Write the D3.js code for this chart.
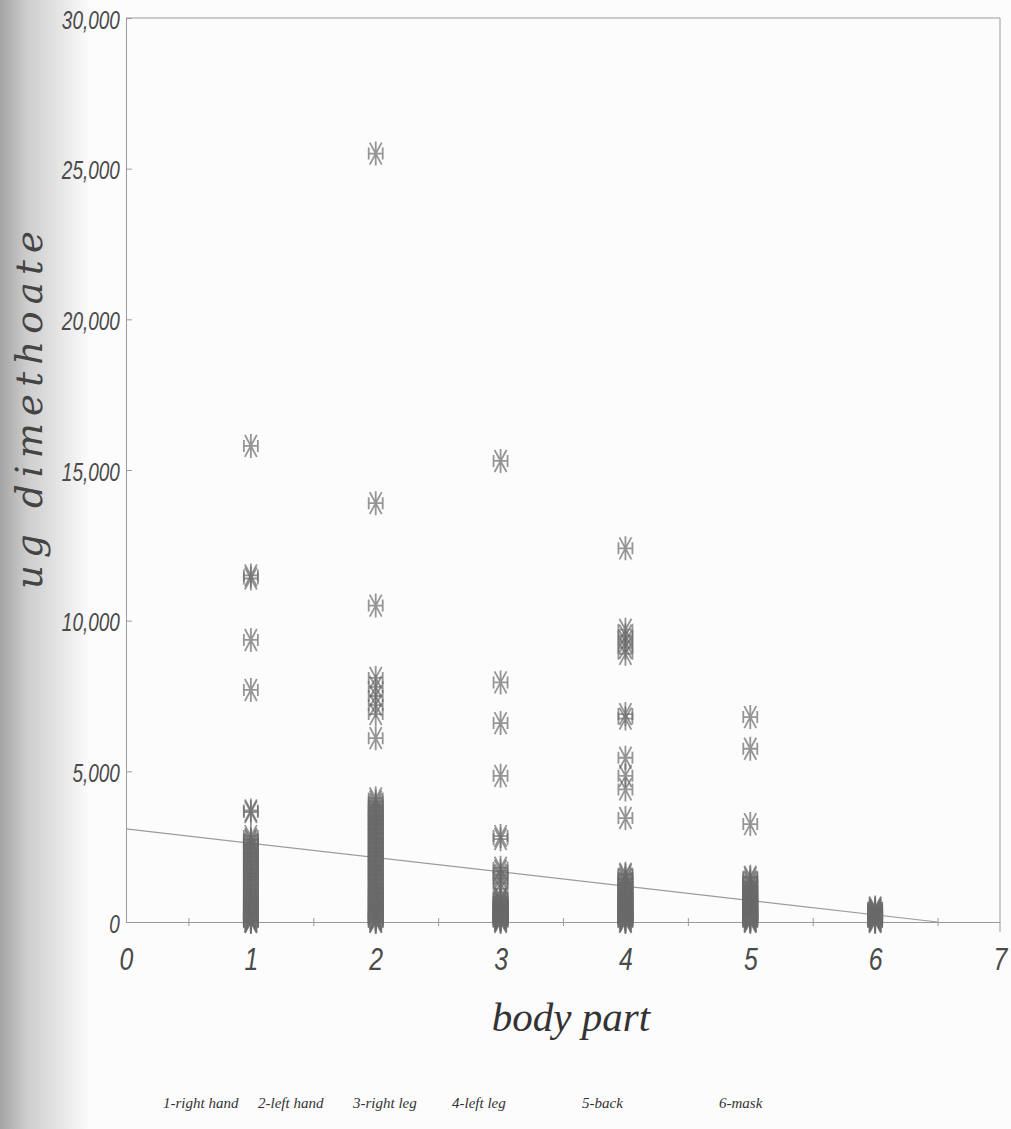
<!DOCTYPE html>
<html>
<head>
<meta charset="utf-8">
<script src="https://cdn.jsdelivr.net/npm/d3@7"></script>
<style>
  html, body { margin: 0; padding: 0; background: #fcfcfc; }
  svg { display: block; }
</style>
</head>
<body>
<svg id="chart" width="1011" height="1129"></svg>
<script>
// ---- data -------------------------------------------------------------
const bodyPartCodes = [1, 2, 3, 4, 5, 6];
const bodyPartLabels = ["1-right hand", "2-left hand", "3-right leg", "4-left leg", "5-back", "6-mask"];

// µg dimethoate measured on each body part
const rightHand = [15800, 11500, 11400, 9360, 7700, 3700, 3650, 2850, 2750, 2700, 2600, 2550,
  2450, 2400, 2300, 2250, 2150, 2050, 2000, 1900, 1800, 1750, 1650, 1600, 1500, 1400, 1350,
  1250, 1200, 1100, 1000, 950, 900, 800, 750, 700, 600, 550, 520, 450, 400, 380, 300, 250,
  200, 150, 120, 100, 60, 30, 10, 0];
const leftHand = [25500, 13900, 10500, 8100, 7800, 7500, 7200, 6900, 6100, 4100, 4000, 3900,
  3800, 3700, 3650, 3550, 3500, 3400, 3350, 3250, 3200, 3100, 3050, 2950, 2900, 2800, 2750,
  2650, 2600, 2500, 2450, 2350, 2300, 2200, 2150, 2050, 2000, 1900, 1850, 1750, 1700, 1600,
  1550, 1450, 1400, 1300, 1250, 1150, 1100, 1000, 950, 900, 850, 800, 700, 650, 600, 500,
  450, 420, 350, 300, 280, 200, 150, 120, 100, 50, 20, 0];
const rightLeg = [15300, 7950, 6600, 4850, 2850, 2750, 1800, 1700, 1550, 1450, 1300, 1100,
  800, 750, 700, 650, 620, 550, 500, 480, 420, 400, 350, 320, 300, 250, 220, 200, 150, 120,
  100, 80, 60, 30, 0];
const leftLeg = [12400, 9700, 9500, 9300, 9100, 8900, 6900, 6750, 5450, 4850, 4400, 3450, 1600,
  1550, 1450, 1400, 1300, 1250, 1150, 1100, 1000, 950, 900, 850, 800, 750, 700, 650, 600,
  550, 500, 450, 400, 380, 320, 300, 250, 230, 200, 160, 120, 100, 50, 20, 0];
const back = [6800, 5750, 3250, 1500, 1450, 1350, 1300, 1200, 1150, 1050, 1000, 950, 900,
  850, 800, 750, 700, 650, 600, 550, 500, 450, 420, 380, 350, 300, 280, 250, 200, 170, 140,
  100, 80, 50, 30, 0];
const mask = [480, 450, 400, 380, 330, 300, 260, 230, 200, 160, 130, 100, 70, 50, 20, 0];

const seriesByPart = [rightHand, leftHand, rightLeg, leftLeg, back, mask];

// fitted linear trend (endpoints)
const trendLine = [[0, 3090], [6.5, 0]];

const xTicks = [0, 1, 2, 3, 4, 5, 6, 7];
const xMinorTicks = [0.5, 1.5, 2.5, 3.5, 4.5, 5.5, 6.5];
const yTicks = [0, 5000, 10000, 15000, 20000, 25000, 30000];

// ---- layout -----------------------------------------------------------
const svg = d3.select("#chart");
const plot = { left: 126, right: 1000, top: 18, bottom: 922 };

const x = d3.scaleLinear().domain([0, 7]).range([plot.left, plot.right]);
const y = d3.scaleLinear().domain([0, 30000]).range([plot.bottom, plot.top]);

// shaded page edge on the left
const defs = svg.append("defs");
const grad = defs.append("linearGradient").attr("id", "edgeShade")
  .attr("x1", "0%").attr("x2", "100%").attr("y1", "0%").attr("y2", "0%");
grad.append("stop").attr("offset", "0%").attr("stop-color", "#a4a4a4");
grad.append("stop").attr("offset", "30%").attr("stop-color", "#cdcdcd");
grad.append("stop").attr("offset", "100%").attr("stop-color", "#fcfcfc");
svg.append("rect").attr("x", 0).attr("y", 0).attr("width", 90).attr("height", 1129)
  .attr("fill", "url(#edgeShade)");

const axisColor = "#9a9a9a";
const textColor = "#4a4a4a";
const narrowFont = "'Liberation Sans', Arial, sans-serif";

// frame: top and right edges
svg.append("path")
  .attr("d", `M${x(0)},${y(30000)}H${x(7)}V${y(0) + 10}`)
  .attr("fill", "none").attr("stroke", axisColor).attr("stroke-width", 1);

// y axis
const yAxis = svg.append("g")
  .attr("transform", `translate(${plot.left},0)`)
  .call(d3.axisLeft(y).tickValues(yTicks).tickFormat(d3.format(","))
    .tickSizeInner(-6).tickSizeOuter(0).tickPadding(6));
yAxis.select(".domain").attr("stroke", axisColor);
yAxis.selectAll(".tick line").attr("stroke", axisColor);
yAxis.selectAll(".tick text")
  .attr("fill", textColor)
  .attr("x", -8)
  .attr("dy", "0.4em")
  .attr("transform", "scale(0.76,1)")
  .style("font-family", narrowFont)
  .style("font-style", "italic")
  .style("font-size", "25px");

// x axis: minor tick marks crossing the baseline
const xMinor = svg.append("g")
  .attr("transform", `translate(0,${plot.bottom + 4})`)
  .call(d3.axisBottom(x).tickValues(xMinorTicks).tickSize(8).tickSizeOuter(0).tickFormat(""));
xMinor.select(".domain").remove();
xMinor.selectAll(".tick line").attr("stroke", axisColor).attr("transform", "translate(0,-8)");

// x axis line and labels
const xAxis = svg.append("g")
  .attr("transform", `translate(0,${plot.bottom})`)
  .call(d3.axisBottom(x).tickValues(xTicks).tickFormat(d3.format("d"))
    .tickSize(0).tickPadding(26));
xAxis.select(".domain").attr("stroke", axisColor);
xAxis.selectAll(".tick text")
  .attr("fill", textColor)
  .attr("transform", "scale(0.8,1)")
  .style("font-family", narrowFont)
  .style("font-style", "italic")
  .style("font-size", "31px");

// fitted trend
svg.append("path")
  .datum(trendLine)
  .attr("d", d3.line().x(d => x(d[0])).y(d => y(d[1])))
  .attr("fill", "none")
  .attr("stroke", "#9c9c9c")
  .attr("stroke-width", 1.2);

// asterisk-with-brackets marker
const markerPath = "M0,-12V12M-6,-11L6,11M6,-11L-6,11M-7,0H7M-7,-6V6M7,-6V6";

const points = bodyPartCodes.flatMap((code, i) =>
  seriesByPart[i].map(v => ({ part: code, value: v })));

svg.append("g")
  .selectAll("path")
  .data(points)
  .join("path")
  .attr("d", markerPath)
  .attr("transform", d => `translate(${x(d.part)},${y(d.value)})`)
  .attr("fill", "none")
  .attr("stroke", "#6a6a6a")
  .attr("stroke-opacity", 0.7)
  .attr("stroke-width", 1.8);

// axis titles
svg.append("text")
  .attr("x", 571).attr("y", 1031)
  .attr("text-anchor", "middle")
  .attr("fill", "#333")
  .style("font-family", "'Liberation Serif', 'Times New Roman', serif")
  .style("font-style", "italic")
  .style("font-size", "41px")
  .text("body part");

svg.append("text")
  .attr("transform", "translate(42,410) rotate(-90)")
  .attr("text-anchor", "middle")
  .attr("fill", "#444")
  .attr("textLength", 358)
  .attr("lengthAdjust", "spacing")
  .style("font-family", "'DejaVu Serif', serif")
  .style("font-style", "italic")
  .style("font-size", "37px")
  .text("ug dimethoate");

// body part key under the chart
const keyStarts = [163, 258, 353, 452, 582, 719];
svg.append("g")
  .selectAll("text")
  .data(bodyPartLabels)
  .join("text")
  .attr("x", (d, i) => keyStarts[i])
  .attr("y", 1108)
  .attr("fill", "#333")
  .style("font-family", "'Liberation Serif', serif")
  .style("font-style", "italic")
  .style("font-size", "15px")
  .text(d => d);
</script>
</body>
</html>
